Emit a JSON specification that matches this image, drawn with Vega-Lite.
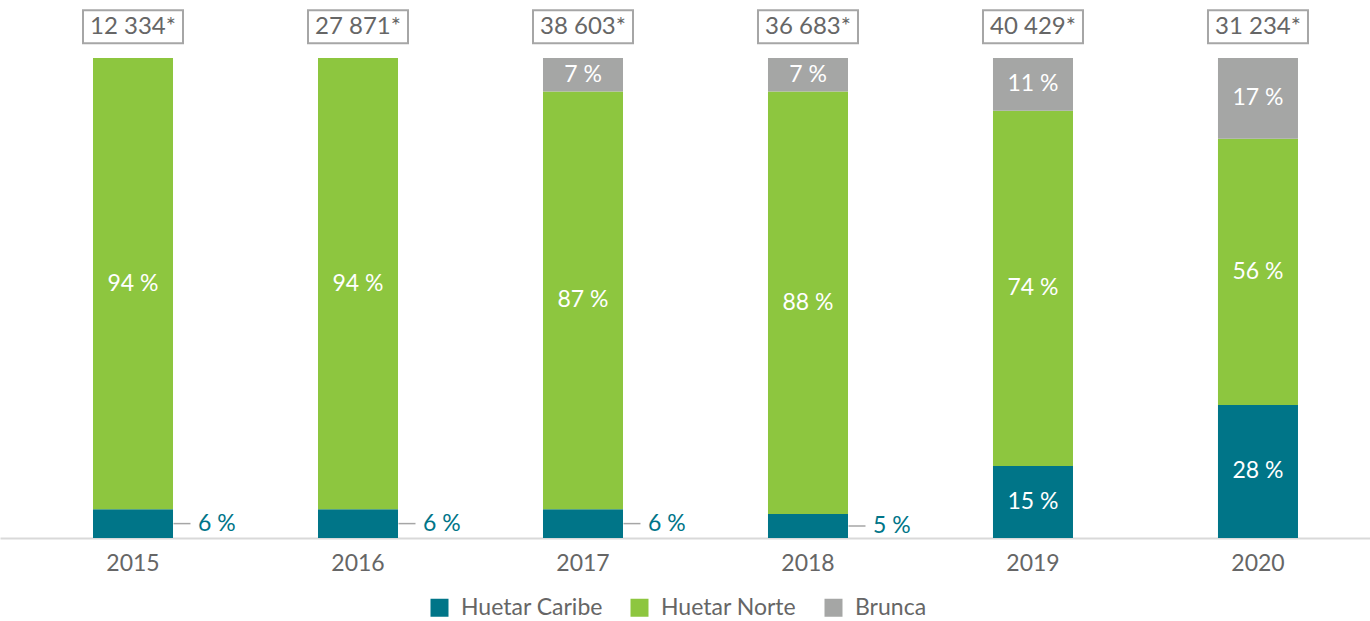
{
  "$schema": "https://vega.github.io/schema/vega-lite/v6.json",
  "width": 1370,
  "height": 528,
  "autosize": {"type": "none"},
  "padding": {"left": 0, "top": 10, "right": 0, "bottom": 83},
  "config": {"view": {"stroke": null}, "font": "Lato"},
  "datasets": {
    "shares": [
      {"year": "2015", "region": "Huetar Caribe", "k": 1, "pct": 6},
      {"year": "2015", "region": "Huetar Norte", "k": 2, "pct": 94},
      {"year": "2016", "region": "Huetar Caribe", "k": 1, "pct": 6},
      {"year": "2016", "region": "Huetar Norte", "k": 2, "pct": 94},
      {"year": "2017", "region": "Huetar Caribe", "k": 1, "pct": 6},
      {"year": "2017", "region": "Huetar Norte", "k": 2, "pct": 87},
      {"year": "2017", "region": "Brunca", "k": 3, "pct": 7},
      {"year": "2018", "region": "Huetar Caribe", "k": 1, "pct": 5},
      {"year": "2018", "region": "Huetar Norte", "k": 2, "pct": 88},
      {"year": "2018", "region": "Brunca", "k": 3, "pct": 7},
      {"year": "2019", "region": "Huetar Caribe", "k": 1, "pct": 15},
      {"year": "2019", "region": "Huetar Norte", "k": 2, "pct": 74},
      {"year": "2019", "region": "Brunca", "k": 3, "pct": 11},
      {"year": "2020", "region": "Huetar Caribe", "k": 1, "pct": 28},
      {"year": "2020", "region": "Huetar Norte", "k": 2, "pct": 56},
      {"year": "2020", "region": "Brunca", "k": 3, "pct": 17}
    ],
    "totals": [
      {"year": "2015", "total": "12 334*"},
      {"year": "2016", "total": "27 871*"},
      {"year": "2017", "total": "38 603*"},
      {"year": "2018", "total": "36 683*"},
      {"year": "2019", "total": "40 429*"},
      {"year": "2020", "total": "31 234*"}
    ]
  },
  "layer": [
    {
      "data": {"name": "shares"},
      "mark": {"type": "bar"},
      "encoding": {
        "x": {
          "field": "year", "type": "nominal",
          "scale": {"paddingInner": 0.6444, "paddingOuter": 0.3667, "align": 0.5636},
          "axis": {"title": null, "labelAngle": 0, "labelFontSize": 23, "labelColor": "#666666", "labelPadding": 14, "ticks": false, "domainColor": "#D9D9D9", "domainWidth": 2, "labelFont": "Lato"}
        },
        "y": {"field": "pct", "type": "quantitative", "stack": "normalize", "scale": {"domain": [0, 1.1], "nice": false, "zero": true}, "axis": null},
        "color": {
          "field": "region", "type": "nominal",
          "sort": ["Huetar Caribe", "Huetar Norte", "Brunca"],
          "scale": {"domain": ["Huetar Caribe", "Huetar Norte", "Brunca"], "range": ["#007588", "#8DC63F", "#A5A6A5"]},
          "legend": {"orient": "none", "legendX": 428, "legendY": 586, "direction": "horizontal", "title": null, "symbolType": "square", "symbolSize": 324, "symbolStrokeWidth": 0, "symbolOpacity": 1, "labelFontSize": 23, "labelColor": "#666666", "labelFont": "Lato", "columnPadding": 25, "labelOffset": 10}
        },
        "order": {"field": "k", "type": "quantitative"}
      }
    },
    {
      "data": {"name": "shares"},
      "transform": [
        {"stack": "pct", "groupby": ["year"], "sort": [{"field": "k"}], "offset": "normalize", "as": ["y0", "y1"]},
        {"calculate": "(datum.y0 + datum.y1) / 2", "as": "mid"},
        {"calculate": "datum.pct + ' %'", "as": "lbl"},
        {"filter": "datum.pct >= 7"}
      ],
      "mark": {"type": "text", "color": "white", "fontSize": 23, "baseline": "middle", "align": "center"},
      "encoding": {
        "x": {"field": "year", "type": "nominal"},
        "y": {"field": "mid", "type": "quantitative"},
        "text": {"field": "lbl"}
      }
    },
    {
      "data": {"name": "shares"},
      "transform": [
        {"stack": "pct", "groupby": ["year"], "sort": [{"field": "k"}], "offset": "normalize", "as": ["y0", "y1"]},
        {"calculate": "(datum.y0 + datum.y1) / 2", "as": "mid"},
        {"calculate": "datum.pct + ' %'", "as": "lbl"},
        {"filter": "datum.pct < 7"}
      ],
      "layer": [
        {
          "mark": {"type": "text", "color": "#007588", "fontSize": 23, "baseline": "middle", "align": "left", "dx": 65},
          "encoding": {
            "x": {"field": "year", "type": "nominal"},
            "y": {"field": "mid", "type": "quantitative"},
            "text": {"field": "lbl"}
          }
        },
        {
          "mark": {"type": "tick", "orient": "horizontal", "size": 17, "thickness": 1.5, "color": "#A6A6A6", "xOffset": 49, "opacity": 1},
          "encoding": {
            "x": {"field": "year", "type": "nominal"},
            "y": {"field": "mid", "type": "quantitative"}
          }
        }
      ]
    },
    {
      "data": {"name": "totals"},
      "layer": [
        {
          "mark": {"type": "point", "shape": "M-1,-0.33L1,-0.33L1,0.33L-1,0.33Z", "size": 10000, "filled": false, "stroke": "#A6A6A6", "strokeWidth": 2, "opacity": 1},
          "encoding": {
            "x": {"field": "year", "type": "nominal"},
            "y": {"datum": 1.065, "type": "quantitative"}
          }
        },
        {
          "mark": {"type": "text", "color": "#666666", "fontSize": 24, "baseline": "middle", "align": "center"},
          "encoding": {
            "x": {"field": "year", "type": "nominal"},
            "y": {"datum": 1.065, "type": "quantitative"},
            "text": {"field": "total"}
          }
        }
      ]
    }
  ]
}
